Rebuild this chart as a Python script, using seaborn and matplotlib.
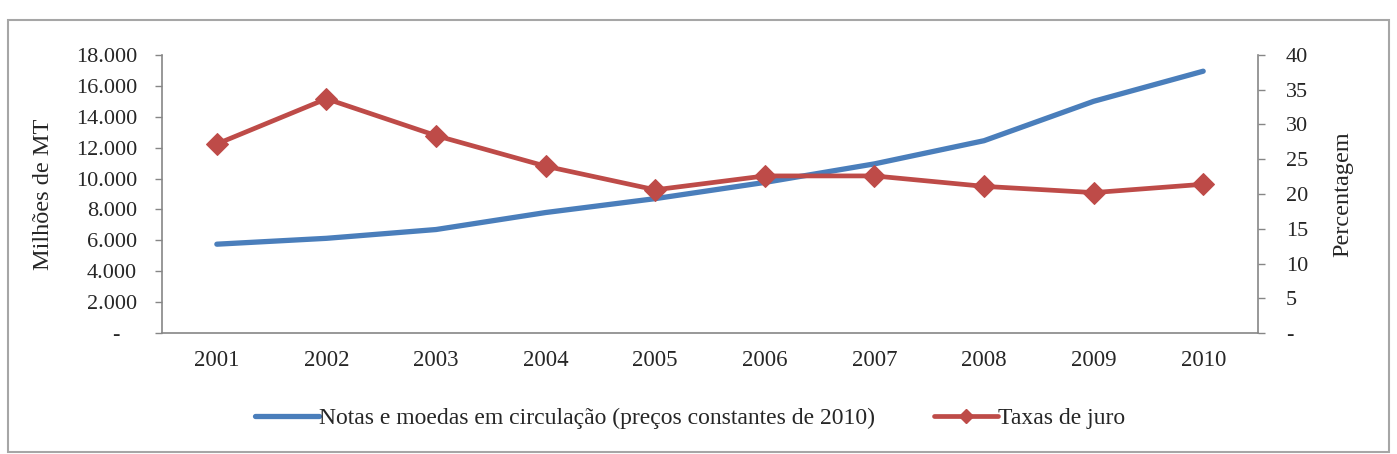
import numpy as np
import pandas as pd
import matplotlib
matplotlib.use("Agg")
import matplotlib.pyplot as plt
import seaborn as sns
from matplotlib.lines import Line2D
from matplotlib.patches import Rectangle
from matplotlib.ticker import FuncFormatter, FixedLocator

sns.set_style("white")
plt.rcParams['font.family'] = ['Liberation Serif', 'DejaVu Serif']

# ------------------------------
# Data
# ------------------------------
years = ["2001", "2002", "2003", "2004", "2005", "2006", "2007", "2008", "2009", "2010"]
notas_moedas = [5750, 6130, 6700, 7800, 8700, 9750, 10950, 12450, 15000, 16950]
taxas_juro = [27.2, 33.7, 28.4, 24.0, 20.6, 22.6, 22.6, 21.1, 20.2, 21.4]

label_notas = "Notas e moedas em circulação (preços constantes de 2010)"
label_taxas = "Taxas de juro"

df = pd.DataFrame({"Ano": years, "Notas": notas_moedas, "Taxas": taxas_juro})

blue = "#4A7EBB"
red = "#BE4B48"
axis_grey = "#868686"
tick_fs = 16

# ------------------------------
# Figure
# ------------------------------
fig = plt.figure(figsize=(13.97, 4.54), dpi=100)
ax = fig.add_axes([0.116, 0.2665, 0.7845, 0.6124])
ax2 = ax.twinx()

sns.lineplot(data=df, x="Ano", y="Notas", color=blue, linewidth=3.8,
             sort=False, ax=ax, zorder=3)
sns.lineplot(data=df, x="Ano", y="Taxas", color=red, linewidth=3.4,
             marker="D", markersize=11, markeredgecolor=red,
             sort=False, ax=ax2, zorder=3)

ax.set_xlim(-0.5, len(years) - 0.5)
ax.set_ylim(0, 18000)
ax2.set_ylim(0, 40)
ax.set_yticks(np.arange(0, 18001, 2000))
ax2.set_yticks(np.arange(0, 41, 5))


# Excel accounting style: zero shown as a dash
def fmt_thousands(v, pos):
    if v == 0:
        return "-   "
    return f"{int(v):,}".replace(",", ".")


def fmt_plain(v, pos):
    if v == 0:
        return "-"
    return f"{int(v)}"


ax.yaxis.set_major_formatter(FuncFormatter(fmt_thousands))
ax2.yaxis.set_major_formatter(FuncFormatter(fmt_plain))

# x tick marks between categories, labels centred
ax.set_xticks(range(len(years)))
ax.set_xticklabels(years)
ax.xaxis.set_minor_locator(FixedLocator(np.arange(-0.5, len(years), 1.0)))
ax.tick_params(axis="x", which="major", length=0, pad=12, labelsize=16.5)
ax.tick_params(axis="x", which="minor", length=6, width=1, color=axis_grey,
               direction="out")
ax.tick_params(axis="y", length=5, width=1, color=axis_grey, direction="out",
               labelsize=tick_fs, pad=13)
ax2.tick_params(axis="y", length=5, width=1, color=axis_grey, direction="out",
                labelsize=tick_fs, pad=15)

ax.set_xlabel("")
ax.set_ylabel("Milhões de MT", fontsize=17.5)
ax2.set_ylabel("Percentagem", fontsize=17.5)
ax.yaxis.set_label_coords(-0.0985, 0.5)
ax2.yaxis.set_label_coords(1.068, 0.5)

for a in (ax, ax2):
    a.grid(False)
    for side in ["top", "right", "bottom", "left"]:
        a.spines[side].set_visible(False)
ax.spines["left"].set_visible(True)
ax.spines["bottom"].set_visible(True)
ax2.spines["right"].set_visible(True)
for sp in (ax.spines["left"], ax.spines["bottom"], ax2.spines["right"]):
    sp.set_color(axis_grey)
    sp.set_linewidth(1.2)

# ------------------------------
# Legend below the plot
# ------------------------------
handles = [
    Line2D([], [], color=blue, linewidth=3.8),
    Line2D([], [], color=red, linewidth=3.4, marker="D", markersize=7),
]
fig.legend(handles, [label_notas, label_taxas], loc="center",
           bbox_to_anchor=(0.494, 0.079), ncol=2, frameon=False,
           fontsize=17, handlelength=2.7, handletextpad=0.0,
           columnspacing=2.5)

# Outer chart border (Excel style)
fig.patches.append(Rectangle((0.006, 0.004), 0.988, 0.951,
                             transform=fig.transFigure, fill=False,
                             edgecolor="#A6A6A6", linewidth=1.5))

fig.savefig("out.png", dpi=100)
plt.close(fig)
